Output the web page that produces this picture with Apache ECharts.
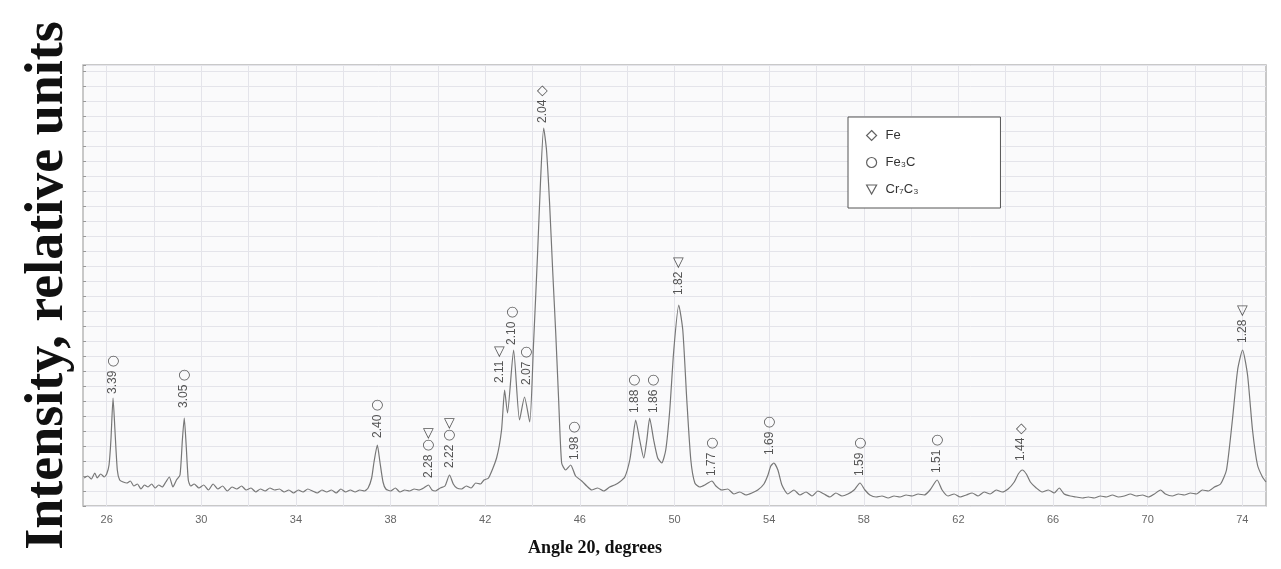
<!DOCTYPE html>
<html>
<head>
<meta charset="utf-8">
<script src="https://cdn.jsdelivr.net/npm/echarts@6.0.0/dist/echarts.min.js"></script>
<style>
  html, body { margin: 0; padding: 0; background: #fff; }
  #main { width: 1281px; height: 569px; }
</style>
</head>
<body>
<div id="main"></div>
<script>
// XRD pattern (2theta, intensity in relative units)
const scan = [
  [25.05, 28], [25.2, 30], [25.35, 27], [25.5, 33], [25.6, 28], [25.75, 32], [25.9, 29], [26.0, 32],
  [26.1, 41], [26.18, 66], [26.27, 108], [26.35, 76], [26.45, 36], [26.55, 26], [26.7, 24], [26.85, 23],
  [27.0, 25], [27.15, 20], [27.3, 22], [27.45, 17], [27.6, 21], [27.75, 19], [27.9, 22], [28.05, 18],
  [28.2, 21], [28.35, 19], [28.5, 24], [28.65, 29], [28.8, 19], [28.95, 26], [29.1, 31], [29.2, 66],
  [29.28, 88], [29.36, 61], [29.45, 26], [29.55, 20], [29.7, 22], [29.9, 18], [30.1, 21], [30.3, 16],
  [30.5, 22], [30.7, 17], [30.9, 20], [31.1, 15], [31.3, 19], [31.5, 17], [31.7, 20], [31.9, 16],
  [32.1, 18], [32.3, 14], [32.5, 17], [32.7, 15], [32.9, 18], [33.1, 16], [33.3, 17], [33.5, 14],
  [33.7, 16], [33.9, 13], [34.1, 16], [34.3, 14], [34.5, 17], [34.7, 15], [34.9, 13], [35.1, 16],
  [35.3, 14], [35.5, 16], [35.7, 13], [35.9, 17], [36.1, 14], [36.3, 16], [36.5, 14], [36.7, 16],
  [36.9, 15], [37.05, 18], [37.2, 28], [37.3, 44], [37.44, 61], [37.55, 44], [37.68, 24], [37.8, 17],
  [38.0, 15], [38.2, 18], [38.4, 14], [38.6, 16], [38.8, 15], [39.0, 17], [39.2, 16], [39.4, 18],
  [39.6, 21], [39.75, 16], [39.9, 15], [40.1, 18], [40.3, 20], [40.49, 31], [40.65, 22], [40.8, 18],
  [41.0, 17], [41.2, 20], [41.4, 18], [41.6, 23], [41.8, 22], [41.95, 26], [42.14, 28], [42.48, 48],
  [42.69, 76], [42.82, 116], [42.94, 93], [43.2, 156], [43.45, 86], [43.66, 109], [43.88, 84], [44.04, 161],
  [44.21, 251], [44.34, 326], [44.47, 378], [44.59, 356], [44.72, 303], [44.85, 236], [44.98, 173], [45.1, 108],
  [45.23, 43], [45.4, 36], [45.61, 41], [45.82, 30], [46.08, 25], [46.29, 20], [46.5, 16], [46.75, 18],
  [47.01, 15], [47.26, 19], [47.47, 21], [47.68, 24], [47.9, 29], [48.11, 46], [48.23, 66], [48.36, 86],
  [48.53, 66], [48.7, 48], [48.83, 66], [48.95, 88], [49.12, 66], [49.29, 48], [49.46, 43], [49.63, 56],
  [49.8, 96], [49.97, 156], [50.18, 201], [50.35, 176], [50.52, 106], [50.69, 46], [50.86, 23], [51.07, 19],
  [51.28, 21], [51.58, 25], [51.75, 20], [52.0, 16], [52.25, 17], [52.51, 12], [52.76, 14], [53.02, 11],
  [53.27, 13], [53.52, 16], [53.78, 22], [53.95, 31], [54.07, 40], [54.2, 43], [54.37, 36], [54.54, 21],
  [54.79, 12], [55.05, 16], [55.3, 11], [55.56, 14], [55.81, 10], [56.06, 15], [56.32, 12], [56.57, 9],
  [56.82, 13], [57.08, 10], [57.33, 12], [57.59, 16], [57.84, 23], [58.05, 16], [58.26, 11], [58.52, 9],
  [58.77, 10], [59.03, 8], [59.28, 10], [59.53, 9], [59.79, 11], [60.04, 10], [60.3, 12], [60.55, 11],
  [60.8, 16], [61.1, 26], [61.31, 16], [61.56, 10], [61.82, 12], [62.07, 9], [62.33, 11], [62.58, 13],
  [62.83, 10], [63.09, 14], [63.34, 12], [63.6, 16], [63.85, 14], [64.1, 17], [64.36, 24], [64.53, 32],
  [64.7, 36], [64.87, 32], [65.04, 24], [65.29, 18], [65.54, 14], [65.8, 16], [66.05, 13], [66.26, 18],
  [66.47, 12], [66.73, 10], [66.98, 9], [67.24, 8], [67.49, 9], [67.74, 8], [68.0, 10], [68.25, 9],
  [68.51, 11], [68.76, 9], [69.01, 10], [69.27, 12], [69.52, 10], [69.78, 11], [70.03, 9], [70.28, 12],
  [70.54, 16], [70.75, 12], [71.04, 10], [71.3, 12], [71.55, 11], [71.81, 13], [72.06, 12], [72.31, 16],
  [72.57, 15], [72.82, 19], [73.08, 22], [73.33, 36], [73.58, 86], [73.8, 136], [74.01, 156], [74.22, 131],
  [74.43, 76], [74.64, 41], [74.85, 29], [75.0, 24]
]

const xTicks = [26, 30, 34, 38, 42, 46, 50, 54, 58, 62, 66, 70, 74]

// peak annotations: d-spacing, phase(s), angle and the height where the label starts
const peakD = ['3.39', '3.05', '2.40', '2.28', '2.22', '2.11', '2.10', '2.07', '2.04', '1.98',
  '1.88', '1.86', '1.82', '1.77', '1.69', '1.59', '1.51', '1.44', '1.28']
const peakPhase = [['Fe₃C'], ['Fe₃C'], ['Fe₃C'], ['Fe₃C', 'Cr₇C₃'], ['Fe₃C', 'Cr₇C₃'], ['Cr₇C₃'], ['Fe₃C'],
  ['Fe₃C'], ['Fe'], ['Fe₃C'], ['Fe₃C'], ['Fe₃C'], ['Cr₇C₃'], ['Fe₃C'], ['Fe₃C'], ['Fe₃C'], ['Fe₃C'],
  ['Fe'], ['Cr₇C₃']]
const peakAngle = [26.27, 29.27, 37.44, 39.6, 40.49, 42.6, 43.13, 43.75, 44.43, 45.78,
  48.32, 49.12, 50.18, 51.58, 54.03, 57.84, 61.1, 64.65, 74.01]
const peakLabelAt = [112, 98, 68, 28, 38, 123, 161, 121, 383, 46,
  93, 93, 211, 30, 51, 30, 33, 45, 163]

const phases = ['Fe', 'Fe₃C', 'Cr₇C₃']
// glyphs as they read inside a label turned 90 degrees
const phaseGlyph = { 'Fe': '◇', 'Fe₃C': '○', 'Cr₇C₃': '◁' }
const phaseIcon = {
  'Fe': 'diamond',
  'Fe₃C': 'circle',
  'Cr₇C₃': 'path://M0,0 L10,0 L5,9 Z'
}

const gridColor = '#e4e4ea'
const inkColor = '#3a3a3a'

let myChart = echarts.init(document.getElementById('main'))

let legendSeries = phases.map(name => ({
  name: name,
  type: 'scatter',
  data: [],
  symbol: phaseIcon[name],
  itemStyle: { color: 'transparent', borderColor: inkColor, borderWidth: 1.2 }
}))

let options = {
  animation: false,
  backgroundColor: '#fff',
  grid: {
    left: 83,
    right: 15,
    top: 65,
    bottom: 63,
    show: true,
    backgroundColor: '#fafafb',
    borderColor: '#b8b8b8',
    borderWidth: 1.5
  },
  legend: {
    data: phases,
    orient: 'vertical',
    left: 848,
    top: 117,
    itemWidth: 10,
    itemHeight: 10,
    itemGap: 14,
    padding: [12, 82, 12, 18],
    backgroundColor: '#fff',
    borderColor: '#555',
    borderWidth: 1,
    itemStyle: { color: 'transparent', borderColor: inkColor, borderWidth: 1.2 },
    textStyle: { fontFamily: 'Liberation Sans', fontSize: 13, color: '#333', padding: [0, 0, 0, 4] }
  },
  xAxis: {
    type: 'value',
    min: 25,
    max: 75,
    interval: 1,
    axisLine: { show: false },
    axisTick: { show: false },
    axisLabel: {
      margin: 8,
      fontFamily: 'Liberation Sans',
      fontSize: 11,
      color: '#666',
      formatter: v => xTicks.includes(v) ? String(v) : ''
    },
    splitLine: { show: true, lineStyle: { color: ['transparent', gridColor], width: 1 } }
  },
  yAxis: {
    type: 'value',
    min: 0,
    max: 441,
    interval: 15,
    name: 'Intensity, relative units',
    nameLocation: 'middle',
    nameGap: 8,
    nameTextStyle: { fontFamily: 'Liberation Serif', fontWeight: 'bold', fontSize: 54, color: '#111' },
    axisLine: { show: false },
    axisTick: { show: true, inside: true, length: 3, lineStyle: { color: '#999' } },
    axisLabel: { show: false },
    splitLine: { show: true, lineStyle: { color: gridColor, width: 1 } }
  },
  graphic: [{
    type: 'text',
    x: 595,
    y: 548,
    style: {
      text: 'Angle 20, degrees',
      fontFamily: 'Liberation Serif',
      fontWeight: 'bold',
      fontSize: 18,
      fill: '#111',
      align: 'center',
      verticalAlign: 'middle'
    }
  }],
  series: [
    {
      name: 'scan',
      type: 'line',
      data: scan,
      symbol: 'none',
      smooth: 0.2,
      lineStyle: { color: '#777', width: 1.2 },
      silent: true,
      z: 3
    },
    {
      name: 'peaks',
      type: 'scatter',
      data: peakAngle.map((a, i) => [a, peakLabelAt[i]]),
      symbolSize: 1,
      itemStyle: { color: 'transparent' },
      silent: true,
      z: 4,
      label: {
        show: true,
        position: 'inside',
        rotate: 90,
        align: 'left',
        verticalAlign: 'middle',
        fontFamily: 'Liberation Sans',
        fontSize: 12,
        color: '#2a2a2a',
        formatter: p => peakD[p.dataIndex] + ' {s|' + peakPhase[p.dataIndex].map(ph => phaseGlyph[ph]).join('') + '}',
        rich: {
          s: { fontFamily: 'DejaVu Sans', fontSize: 14, color: '#2a2a2a' }
        }
      }
    }
  ].concat(legendSeries)
}
myChart.setOption(options)
</script>
</body>
</html>
